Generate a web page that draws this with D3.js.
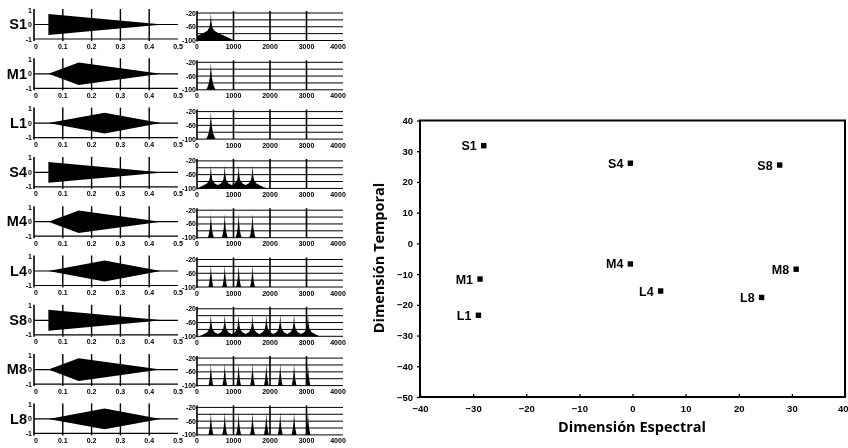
<!DOCTYPE html>
<html><head><meta charset="utf-8">
<script src="https://cdn.jsdelivr.net/npm/d3@7"></script>
<style>
body{margin:0;background:#fff}
svg{display:block;will-change:transform}
text{font-family:"Liberation Sans",Arial,Helvetica,sans-serif;font-weight:bold;fill:#000}
</style>
</head><body>
<svg id="c" width="848" height="448"></svg>
<script>
// ---------- data ----------
const rowLabels    = ["S1","M1","L1","S4","M4","L4","S8","M8","L8"];
const rowHarmonics = [1,1,1,4,4,4,8,8,8];
const rowEnvelope  = ["S","M","L","S","M","L","S","M","L"];
const rowPeakDb    = [-20,-20,-20,-33,-30,-35,-36,-35,-34];
const fundamentalHz = 380;

// amplitude envelopes: [time s, amplitude]
const envelopeS = [[0.05,0],[0.05,0.72],[0.448,0]];
const envelopeM = [[0.05,0],[0.155,0.78],[0.44,0]];
const envelopeL = [[0.05,0],[0.245,0.72],[0.44,0]];

// peak profiles: [offset Hz, dB below peak]
const skirtWide   = [[0,0],[15,-25],[40,-42],[100,-52],[200,-58],[300,-63],[450,-70],[600,-78],[800,-90],[1000,-100]];
const skirtNarrow = [[0,0],[10,-20],[30,-45],[60,-62],[100,-74],[160,-85],[220,-100]];

const timeTicks      = [0,0.1,0.2,0.3,0.4,0.5];
const timeTickLabels = ["0","0.1","0.2","0.3","0.4","0.5"];
const timeGrid       = [0.1,0.2,0.3,0.4];
const ampTicks       = [1,0,-1];
const freqTicks      = [0,1000,2000,3000,4000];
const freqGrid       = [1000,2000,3000];
const dbTicks        = [-20,-60,-100];
const dbGrid         = [-20,-40,-60,-80,-100];

const pointNames  = ["S1","M1","L1","S4","M4","L4","S8","M8","L8"];
const spectralDim = [-28.0,-28.7,-29.0,-0.4,-0.4,5.3,27.7,30.8,24.3];
const temporalDim = [31.8,-11.6,-23.4,26.1,-6.7,-15.5,25.5,-8.4,-17.6];
const xTicks = [-40,-30,-20,-10,0,10,20,30,40];
const yTicks = [40,30,20,10,0,-10,-20,-30,-40,-50];

// ---------- drawing ----------
const svg = d3.select("#c");
const envelopes = {S:envelopeS, M:envelopeM, L:envelopeL};
const fmtMinus = v => (v<0 ? "\u2212"+Math.abs(v) : String(v));

const rowStep = 49.3, row0 = 24;
const tx = d3.scaleLinear().domain([0,0.5]).range([34,178]);
const fx = d3.scaleLinear().domain([0,4000]).range([197,343]);
const freqs = d3.range(0,4001,2);

function profileAt(profile, df){
  df = Math.abs(df);
  for (let i=1;i<profile.length;i++){
    if (df <= profile[i][0]){
      const a = profile[i-1], b = profile[i];
      return a[1] + (b[1]-a[1])*(df-a[0])/(b[0]-a[0]);
    }
  }
  return -200;
}

rowLabels.forEach((lab,i)=>{
  const z = row0 + rowStep*i;
  const g = svg.append("g");
  // ---- waveform ----
  const ty = d3.scaleLinear().domain([-1,1]).range([z+15,z-14]);
  const top = ty(1)-1, bot = ty(-1);
  g.append("text").attr("x",27).attr("y",z).attr("dy","0.36em")
    .attr("text-anchor","end").style("font-size","14.5px").text(lab);
  const env = envelopes[rowEnvelope[i]];
  g.append("path").datum(env)
    .attr("d", d3.area().x(d=>tx(d[0])).y0(d=>ty(-d[1])).y1(d=>ty(d[1])))
    .attr("fill","#000");
  g.append("line").attr("x1",tx(0)).attr("x2",tx(0.5)).attr("y1",ty(0)).attr("y2",ty(0)).attr("stroke","#000").attr("stroke-width",1.2);
  g.append("line").attr("x1",tx(0)).attr("x2",tx(0.5)).attr("y1",bot).attr("y2",bot).attr("stroke","#000").attr("stroke-width",1.2);
  g.append("line").attr("x1",tx(0)).attr("x2",tx(0)).attr("y1",top).attr("y2",bot+2).attr("stroke","#000").attr("stroke-width",1.6);
  timeGrid.forEach(t=>{
    g.append("line").attr("x1",tx(t)).attr("x2",tx(t)).attr("y1",top).attr("y2",bot+2).attr("stroke","#000").attr("stroke-width",1.4);
  });
  ampTicks.forEach(a=>{
    g.append("text").attr("x",tx(0)-2).attr("y",ty(a)).attr("dy","0.36em")
      .attr("text-anchor","end").style("font-size","7px").text(String(a));
  });
  timeTicks.forEach((t,k)=>{
    g.append("text").attr("x",tx(t)+(k===0?2:0)).attr("y",z+22).attr("dy","0.36em")
      .attr("text-anchor","middle").style("font-size","7px").text(timeTickLabels[k]);
  });
  // ---- spectrum ----
  const sy = d3.scaleLinear().domain([-100,-20]).range([z+16.5,z-11]);
  dbGrid.forEach(d=>{
    g.append("line").attr("x1",fx(0)).attr("x2",fx(4000)).attr("y1",sy(d)).attr("y2",sy(d)).attr("stroke","#000").attr("stroke-width",1);
  });
  const profile = rowEnvelope[i]==="S" ? skirtWide : skirtNarrow;
  const peaks = d3.range(1,rowHarmonics[i]+1).map(n=>n*fundamentalHz);
  const spec = freqs.map(f=>{
    let v = -200;
    peaks.forEach(p=>{ v = Math.max(v, rowPeakDb[i] + profileAt(profile, f-p)); });
    return [f, Math.max(v,-100)];
  });
  g.append("path").datum(spec)
    .attr("d", d3.area().x(d=>fx(d[0])).y0(sy(-100)).y1(d=>sy(d[1])))
    .attr("fill","#000");
  g.append("line").attr("x1",fx(0)).attr("x2",fx(0)).attr("y1",sy(-20)-2).attr("y2",sy(-100)+1).attr("stroke","#000").attr("stroke-width",1.6);
  freqGrid.forEach(f=>{
    g.append("line").attr("x1",fx(f)).attr("x2",fx(f)).attr("y1",sy(-20)-2).attr("y2",sy(-100)).attr("stroke","#000").attr("stroke-width",1.6);
  });
  dbTicks.forEach(d=>{
    g.append("text").attr("x",fx(0)-1).attr("y",sy(d)).attr("dy","0.36em")
      .attr("text-anchor","end").style("font-size","7px").text(String(d));
  });
  freqTicks.forEach((f,k)=>{
    g.append("text").attr("x",fx(f)-(k===4?5:0)).attr("y",z+22.5).attr("dy","0.36em")
      .attr("text-anchor","middle").style("font-size","7px").text(String(f));
  });
});

// ---------- scatter ----------
const X = d3.scaleLinear().domain([-40,40]).range([420,845]);
const Y = d3.scaleLinear().domain([-50,40]).range([397,120.5]);

svg.append("rect").attr("x",X(-40)).attr("y",Y(40)).attr("width",X(40)-X(-40)).attr("height",Y(-50)-Y(40))
  .attr("fill","none").attr("stroke","#000").attr("stroke-width",2);

const yAx = svg.append("g").attr("transform",`translate(${X(-40)},0)`)
  .call(d3.axisLeft(Y).tickValues(yTicks).tickSize(3).tickPadding(4).tickFormat(fmtMinus));
const xAx = svg.append("g").attr("transform",`translate(0,${Y(-50)})`)
  .call(d3.axisBottom(X).tickValues(xTicks).tickSize(-3).tickPadding(8).tickFormat(fmtMinus));
[yAx,xAx].forEach(a=>{
  a.select(".domain").remove();
  a.selectAll(".tick line").attr("stroke","#000").attr("stroke-width",1.3);
  a.selectAll(".tick text").style("font-size","9.5px").style("font-weight","bold").attr("fill","#000")
    .style("font-family",'"Liberation Sans",Arial,sans-serif');
});
xAx.selectAll(".tick text").filter(d=>d===40).attr("text-anchor","end").attr("x",3);

const pts = svg.append("g");
pointNames.forEach((n,i)=>{
  const cx = X(spectralDim[i]), cy = Y(temporalDim[i]);
  pts.append("rect").attr("x",cx-2.7).attr("y",cy-2.7).attr("width",5.4).attr("height",5.4).attr("fill","#000");
  pts.append("text").attr("x",cx-7).attr("y",cy).attr("dy","0.36em").attr("text-anchor","end")
    .style("font-size","12.5px").text(n);
});

svg.append("text").attr("transform",`translate(384,258) rotate(-90)`).attr("text-anchor","middle")
  .style("font-family",'"Open Sans",sans-serif').style("font-size","14.5px").text("Dimensión Temporal");
svg.append("text").attr("x",632).attr("y",432).attr("text-anchor","middle")
  .style("font-family",'"Open Sans",sans-serif').style("font-size","14.5px").text("Dimensión Espectral");
</script>
</body></html>
